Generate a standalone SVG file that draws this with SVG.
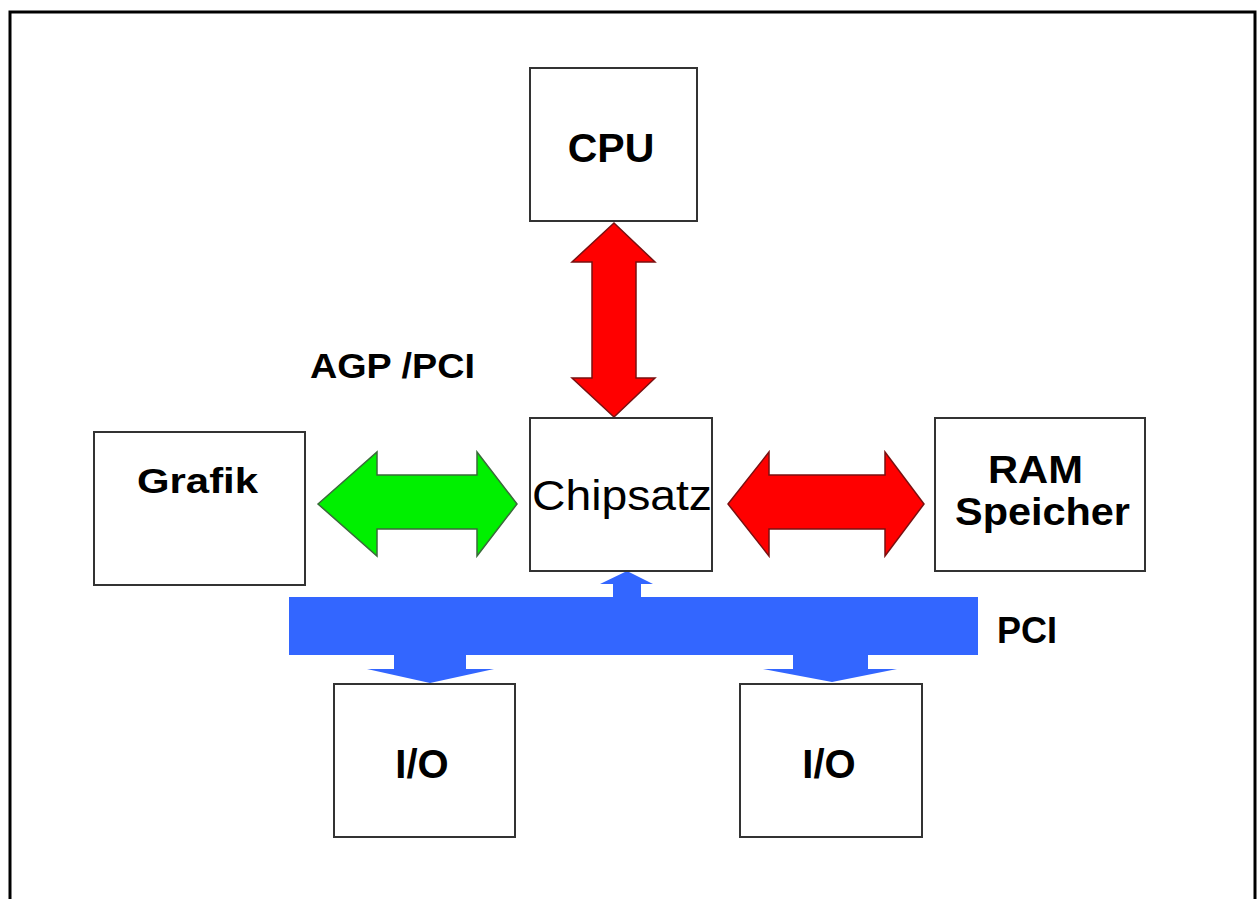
<svg xmlns="http://www.w3.org/2000/svg" width="1257" height="899" viewBox="0 0 1257 899">
<style>
.box{fill:#fff;stroke:#333;stroke-width:2}
.t{font-family:"Liberation Sans",Arial,sans-serif;fill:#000}
.b{font-weight:bold}
.red{fill:#ff0000;stroke:#7a1010;stroke-width:1.5;stroke-linejoin:miter}
.green{fill:#00f000;stroke:#3a6a3a;stroke-width:1.5}
.blue{fill:#3366ff;stroke:none}
</style>
<rect x="0" y="0" width="1257" height="899" fill="#fff"/>
<rect x="10" y="12" width="1245" height="900" fill="none" stroke="#000" stroke-width="3"/>
<g id="connectors">
  <polygon class="red" points="614,223 655,262 636,262 636,378 655,378 614,417 572,378 592,378 592,262 572,262"/>
  <polygon class="green" points="318,504 377,452 377,475 477,475 477,452 517,504 477,556 477,529 377,529 377,556"/>
  <polygon class="red" points="728,504 769,452 769,475 885,475 885,452 924,504 885,556 885,529 769,529 769,556"/>
  <g id="pci-bus">
    <rect class="blue" x="289" y="597" width="689" height="58"/>
    <polygon class="blue" points="613,598 613,584 600,584 627,571 653,584 641,584 641,598"/>
    <polygon class="blue" points="394,654 466,654 466,669 494,669 430,683 367,669 394,669"/>
    <polygon class="blue" points="793,654 868,654 868,669 897,669 832,682 763,669 793,669"/>
  </g>
</g>
<g id="cpu">
  <rect class="box" x="530" y="68" width="167" height="153"/>
  <text class="t b" x="611" y="162" font-size="41" text-anchor="middle">CPU</text>
</g>
<g id="chipsatz">
  <rect class="box" x="530" y="418" width="182" height="153"/>
  <text class="t" x="532" y="510" font-size="42" textLength="180" lengthAdjust="spacingAndGlyphs">Chipsatz</text>
</g>
<g id="grafik">
  <rect class="box" x="94" y="432" width="211" height="153"/>
  <text class="t b" x="137" y="493" font-size="35" textLength="121" lengthAdjust="spacingAndGlyphs">Grafik</text>
</g>
<g id="ram">
  <rect class="box" x="935" y="418" width="210" height="153"/>
  <text class="t b" x="988" y="483" font-size="39" textLength="95" lengthAdjust="spacingAndGlyphs">RAM</text>
  <text class="t" x="955" y="525" font-size="39" textLength="175" lengthAdjust="spacingAndGlyphs" font-weight="600">Speicher</text>
</g>
<g id="io1">
  <rect class="box" x="334" y="684" width="181" height="153"/>
  <text class="t b" x="422" y="778" font-size="40" text-anchor="middle">I/O</text>
</g>
<g id="io2">
  <rect class="box" x="740" y="684" width="182" height="153"/>
  <text class="t b" x="829" y="778" font-size="40" text-anchor="middle">I/O</text>
</g>
<g id="labels">
  <text class="t b" x="310" y="378" font-size="35" textLength="165" lengthAdjust="spacingAndGlyphs">AGP /PCI</text>
  <text class="t b" x="997" y="643" font-size="36">PCI</text>
</g>
</svg>
